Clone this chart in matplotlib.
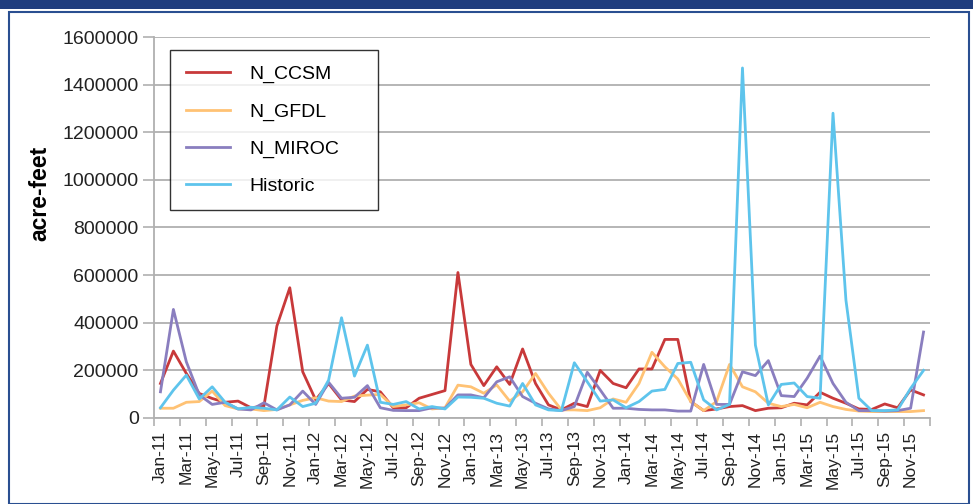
import matplotlib.pyplot as plt
from matplotlib.patches import Rectangle

plt.rcParams['font.family'] = ['Liberation Sans', 'DejaVu Sans']

# monthly values, Jan-11 .. Dec-15 (acre-feet)
months = ['Jan', 'Feb', 'Mar', 'Apr', 'May', 'Jun', 'Jul', 'Aug', 'Sep', 'Oct', 'Nov', 'Dec']
years = ['11', '12', '13', '14', '15']
labels = [m + '-' + y for y in years for m in months]

n_ccsm = [145000, 281000, 187000, 103000, 82000, 66000, 71000, 43000, 50000, 386000, 547000, 194000,
          76000, 145000, 76000, 69000, 120000, 110000, 43000, 43000, 83000, 99000, 115000, 611000,
          225000, 136000, 215000, 141000, 290000, 145000, 55000, 34000, 62000, 48000, 200000, 145000,
          127000, 206000, 206000, 330000, 330000, 69000, 31000, 38000, 48000, 52000, 31000, 41000,
          43000, 62000, 55000, 108000, 83000, 62000, 38000, 36000, 59000, 43000, 118000, 97000]

n_gfdl = [41000, 41000, 66000, 69000, 113000, 52000, 38000, 38000, 31000, 36000, 55000, 74000,
          85000, 71000, 69000, 92000, 96000, 99000, 48000, 55000, 64000, 38000, 43000, 138000,
          131000, 104000, 139000, 71000, 110000, 187000, 104000, 34000, 34000, 31000, 43000, 80000,
          66000, 145000, 276000, 215000, 164000, 69000, 31000, 69000, 225000, 131000, 110000, 62000,
          48000, 57000, 43000, 66000, 48000, 36000, 29000, 27000, 27000, 27000, 27000, 31000]

n_miroc = [110000, 456000, 236000, 97000, 57000, 66000, 38000, 34000, 64000, 34000, 55000, 113000,
           57000, 150000, 83000, 87000, 136000, 43000, 32000, 31000, 31000, 43000, 41000, 97000,
           97000, 85000, 152000, 173000, 90000, 62000, 38000, 31000, 48000, 192000, 118000, 41000,
           41000, 36000, 34000, 34000, 29000, 29000, 225000, 57000, 57000, 194000, 178000, 241000,
           94000, 90000, 167000, 260000, 145000, 66000, 31000, 31000, 29000, 31000, 41000, 361000]

historic = [43000, 117000, 180000, 80000, 131000, 66000, 38000, 45000, 41000, 34000, 88000, 48000,
            62000, 159000, 421000, 176000, 306000, 66000, 57000, 69000, 38000, 48000, 38000, 88000,
            87000, 83000, 62000, 50000, 145000, 55000, 34000, 31000, 232000, 152000, 71000, 76000,
            43000, 69000, 113000, 120000, 229000, 234000, 76000, 34000, 57000, 1470000, 306000, 55000,
            141000, 147000, 90000, 83000, 1280000, 495000, 83000, 31000, 31000, 34000, 124000, 200000]

series = [('N_CCSM', n_ccsm, '#C8393A'),
          ('N_GFDL', n_gfdl, '#FFC274'),
          ('N_MIROC', n_miroc, '#8A7EBF'),
          ('Historic', historic, '#5EC4EC')]

fig = plt.figure(figsize=(9.73, 5.04), dpi=100)

# outer frame: dark band on top, thin blue border
fig.patches.append(Rectangle((0, 1 - 9 / 504), 1, 9 / 504, transform=fig.transFigure,
                             facecolor='#1F3D7E', edgecolor='none'))
fig.patches.append(Rectangle((9 / 973, 0), 960 / 973, 1 - 12 / 504, transform=fig.transFigure,
                             facecolor='none', edgecolor='#2A4F91', linewidth=1.5))

ax = fig.add_axes([154 / 973, 1 - 418 / 504, 776 / 973, 381 / 504])

x = list(range(len(labels)))
for name, vals, col in series:
    ax.plot(x, vals, color=col, linewidth=2.0, label=name)

ax.set_xlim(-0.5, len(labels) - 0.5)
ax.set_ylim(0, 1600000)
ax.set_yticks(range(0, 1600001, 200000))
ax.set_yticklabels([str(v) for v in range(0, 1600001, 200000)], fontsize=14, color='#222222')
ax.yaxis.grid(True, color='#B0B0B0', linewidth=1.3)
ax.set_axisbelow(True)

ax.set_xticks(x[::2])
ax.set_xticklabels(labels[::2], rotation=90, fontsize=12.5, color='#222222')
ax.set_xticks([i - 0.5 for i in range(0, len(labels) + 1, 2)], minor=True)
ax.tick_params(axis='x', which='major', length=0, pad=9)
ax.tick_params(axis='x', which='minor', length=6, color='#B0B0B0', width=1.2)
ax.tick_params(axis='y', length=8, color='#B0B0B0', width=1.2, pad=3)

for s in ['top', 'right']:
    ax.spines[s].set_visible(False)
for s in ['left', 'bottom']:
    ax.spines[s].set_color('#B0B0B0')
    ax.spines[s].set_linewidth(1.3)

ax.set_ylabel('acre-feet', fontsize=16.5, fontweight='bold')
ax.yaxis.set_label_coords(-0.132, 0.59)

leg = ax.legend(loc='upper left', bbox_to_anchor=(0.0206, 0.966, 0.268, 0.0), mode='expand',
                borderaxespad=0, fontsize=14, frameon=True, fancybox=False, edgecolor='black',
                handlelength=2.3, handletextpad=1.0, labelspacing=1.0, borderpad=0.8)
leg.get_frame().set_linewidth(1.0)

fig.savefig('out.png', dpi=100)
